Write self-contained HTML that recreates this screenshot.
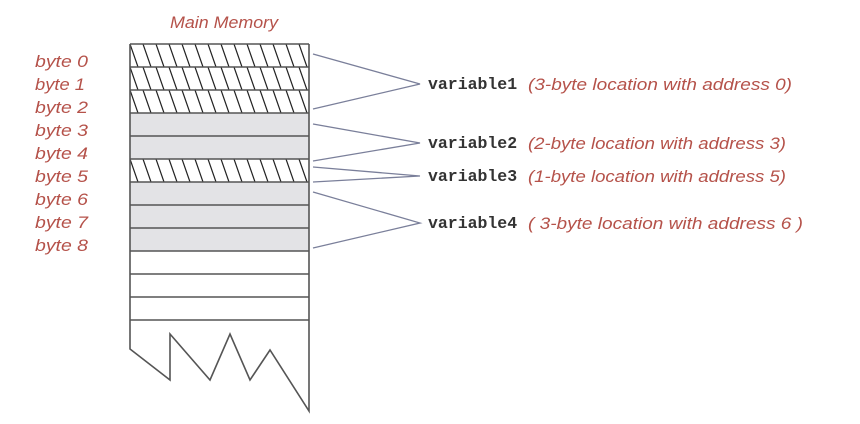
<!DOCTYPE html>
<html><head><meta charset="utf-8"><style>
html,body{margin:0;padding:0;background:#fff;width:860px;height:424px;overflow:hidden}
svg{display:block}
.r{font-family:"Liberation Sans",sans-serif;font-style:italic;fill:#b5524a;font-size:17px}
.v{font-family:"Liberation Mono",monospace;font-weight:bold;fill:#333;font-size:16.5px}
</style></head><body>
<svg width="860" height="424" viewBox="0 0 860 424" xmlns="http://www.w3.org/2000/svg">
<defs>
<pattern id="h" patternUnits="userSpaceOnUse" width="13" height="23" x="130" y="44">
<line x1="0" y1="0" x2="8" y2="23" stroke="#222" stroke-width="1.2"/>
<line x1="13" y1="0" x2="21" y2="23" stroke="#222" stroke-width="1.2"/>
<line x1="-13" y1="0" x2="-5" y2="23" stroke="#222" stroke-width="1.2"/>
</pattern>
</defs>
<text x="170" y="28" class="r" textLength="108" lengthAdjust="spacingAndGlyphs">Main Memory</text>
<rect x="130" y="44" width="179" height="69" fill="#fff"/>
<rect x="130" y="44" width="179" height="69" fill="url(#h)"/>
<rect x="130" y="113" width="179" height="46" fill="#e3e3e6"/>
<rect x="130" y="159" width="179" height="23" fill="url(#h)"/>
<rect x="130" y="182" width="179" height="69" fill="#e3e3e6"/>
<g stroke="#555" stroke-width="1.6" fill="none">
<line x1="130" y1="44" x2="309" y2="44"/>
<line x1="130" y1="67" x2="309" y2="67"/>
<line x1="130" y1="90" x2="309" y2="90"/>
<line x1="130" y1="113" x2="309" y2="113"/>
<line x1="130" y1="136" x2="309" y2="136"/>
<line x1="130" y1="159" x2="309" y2="159"/>
<line x1="130" y1="182" x2="309" y2="182"/>
<line x1="130" y1="205" x2="309" y2="205"/>
<line x1="130" y1="228" x2="309" y2="228"/>
<line x1="130" y1="251" x2="309" y2="251"/>
<line x1="130" y1="274" x2="309" y2="274"/>
<line x1="130" y1="297" x2="309" y2="297"/>
<line x1="130" y1="320" x2="309" y2="320"/>
<polyline points="130,44 130,349 170,380 170,334 210,380 230,334 250,380 270,350 309,411 309,44"/>
</g>
<g stroke="#7a7f9a" stroke-width="1.3" fill="none">
<polyline points="313,54 420,84 313,109"/>
<polyline points="313,124 420,143 313,161"/>
<polyline points="313,167 420,176 313,182"/>
<polyline points="313,192 420,223 313,248"/>
</g>
<g class="r" font-size="18">
<text x="35" y="67" textLength="53" lengthAdjust="spacingAndGlyphs">byte 0</text>
<text x="35" y="90" textLength="50" lengthAdjust="spacingAndGlyphs">byte 1</text>
<text x="35" y="113" textLength="53" lengthAdjust="spacingAndGlyphs">byte 2</text>
<text x="35" y="136" textLength="53" lengthAdjust="spacingAndGlyphs">byte 3</text>
<text x="35" y="159" textLength="53" lengthAdjust="spacingAndGlyphs">byte 4</text>
<text x="35" y="182" textLength="53" lengthAdjust="spacingAndGlyphs">byte 5</text>
<text x="35" y="205" textLength="53" lengthAdjust="spacingAndGlyphs">byte 6</text>
<text x="35" y="228" textLength="53" lengthAdjust="spacingAndGlyphs">byte 7</text>
<text x="35" y="251" textLength="53" lengthAdjust="spacingAndGlyphs">byte 8</text>
</g>
<text x="428" y="89" class="v">variable1</text>
<text x="428" y="148" class="v">variable2</text>
<text x="428" y="181" class="v">variable3</text>
<text x="428" y="228" class="v">variable4</text>
<g font-size="18.5">
<text x="528" y="90" class="r" font-size="18.5" textLength="264" lengthAdjust="spacingAndGlyphs">(3-byte location with address 0)</text>
<text x="528" y="149" class="r" font-size="18.5" textLength="258" lengthAdjust="spacingAndGlyphs">(2-byte location with address 3)</text>
<text x="528" y="182" class="r" font-size="18.5" textLength="258" lengthAdjust="spacingAndGlyphs">(1-byte location with address 5)</text>
<text x="528" y="229" class="r" font-size="18.5" textLength="275" lengthAdjust="spacingAndGlyphs">( 3-byte location with address 6 )</text>
</g>
</svg>
</body></html>
